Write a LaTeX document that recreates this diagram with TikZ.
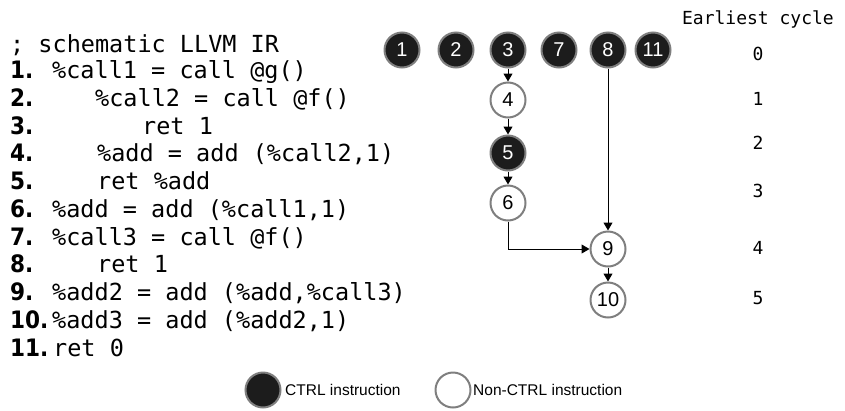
\documentclass[tikz,border=0pt]{standalone}
\usepackage{fontspec}
\setmainfont{Liberation Sans}
\setmonofont{DejaVu Sans Mono}
\newfontfamily\numfont{DejaVu Sans Condensed}
\usetikzlibrary{arrows.meta}

\definecolor{ctrlfill}{HTML}{1C1C1C}
\definecolor{ringgray}{HTML}{7F7F7F}

\tikzset{
  codeline/.style={anchor=base west, inner sep=0pt,
    font=\ttfamily\fontsize{23.5}{28}\selectfont},
  lineno/.style={anchor=base west, inner sep=0pt,
    font=\numfont\bfseries\fontsize{24}{28}\selectfont},
  cyclelabel/.style={inner sep=0pt,
    font=\ttfamily\fontsize{18}{20}\selectfont},
  ctrl/.style={circle, minimum size=35pt, inner sep=0pt, fill=ctrlfill,
    draw=ringgray, line width=2pt, text=white,
    font=\fontsize{20}{22}\selectfont},
  plain/.style={circle, minimum size=35pt, inner sep=0pt, fill=white,
    draw=ringgray, line width=2pt, text=black,
    font=\fontsize{20}{22}\selectfont},
  legendtext/.style={anchor=west, inner sep=0pt,
    font=\fontsize{15.5}{17}\selectfont},
  dep/.style={draw=black, line width=1pt,
    -{Triangle[width=9pt,length=8pt]}},
}

\begin{document}
\begin{tikzpicture}[x=1pt, y=-1pt]
  \useasboundingbox (0,0) rectangle (845,410);

  % ---- source listing ----
  \node[codeline] (hdr) at (10,52) {; schematic LLVM IR};
  \foreach \i/\x/\t in {
      1/52/{\%call1 = call @g()},
      2/95/{\%call2 = call @f()},
      3/142/{ret 1},
      4/97/{\%add = add (\%call2,1)},
      5/97/{ret \%add},
      6/52/{\%add = add (\%call1,1)},
      7/52/{\%call3 = call @f()},
      8/97/{ret 1},
      9/52/{\%add2 = add (\%add,\%call3)},
      10/52/{\%add3 = add (\%add2,1)},
      11/53/{ret 0}} {
    \pgfmathsetmacro{\yb}{78.5 + 27.75*(\i-1)}
    \node[lineno] (n\i) at (10,\yb) {\i.};
    \node[codeline] (c\i) at (\x,\yb) {\t};
  }

  % ---- dependence graph ----
  \node[ctrl]  (g1)  at (402,50) {1};
  \node[ctrl]  (g2)  at (456,50) {2};
  \node[ctrl]  (g3)  at (508,50) {3};
  \node[ctrl]  (g7)  at (559,50) {7};
  \node[ctrl]  (g8)  at (608,50) {8};
  \node[ctrl]  (g11) at (653,50) {11};
  \node[plain] (g4)  at (508,100) {4};
  \node[ctrl]  (g5)  at (508,153) {5};
  \node[plain] (g6)  at (508,203) {6};
  \node[plain] (g9)  at (608,249) {9};
  \node[plain] (g10) at (608,300) {10};

  \draw[dep] (g3) -- (g4);
  \draw[dep] (g4) -- (g5);
  \draw[dep] (g5) -- (g6);
  \draw[dep] (g8) -- (g9);
  \draw[dep] (g9) -- (g10);
  \draw[dep] (g6.south) |- (g9.west);

  % ---- earliest cycle column ----
  \node[cyclelabel, anchor=base east] (ech) at (834,24) {Earliest cycle};
  \node[cyclelabel] (e0) at (758,54) {0};
  \node[cyclelabel] (e1) at (758,99) {1};
  \node[cyclelabel] (e2) at (758,143) {2};
  \node[cyclelabel] (e3) at (758,191) {3};
  \node[cyclelabel] (e4) at (758,248) {4};
  \node[cyclelabel] (e5) at (758,298) {5};

  % ---- legend ----
  \node[ctrl]  (lc) at (263,390) {};
  \node[legendtext] (lct) at (285,390) {CTRL instruction};
  \node[plain] (lp) at (453,390) {};
  \node[legendtext] (lpt) at (473,390) {Non-CTRL instruction};
\end{tikzpicture}
\end{document}
